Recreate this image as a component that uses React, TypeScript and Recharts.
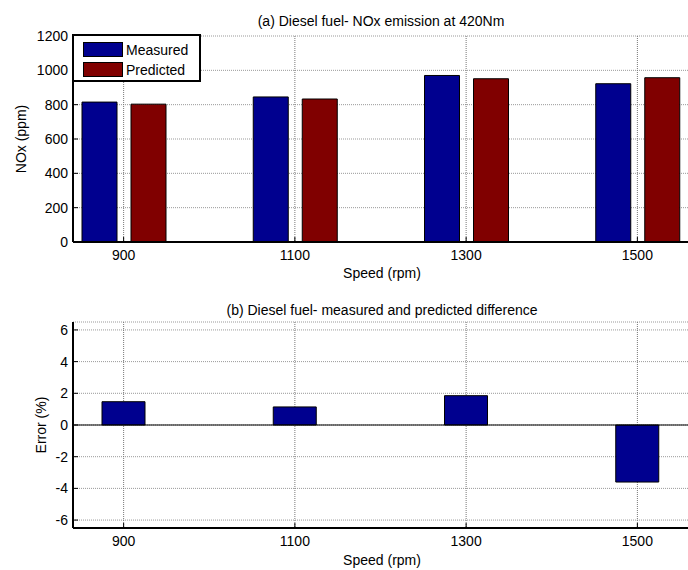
import { BarChart, Bar, XAxis, YAxis, CartesianGrid, ReferenceLine } from 'recharts'

const speeds = ['900', '1100', '1300', '1500']
const measured = [815, 845, 970, 922]
const predicted = [803, 833, 951, 957]
const errorPct = [1.47, 1.14, 1.85, -3.6]
const noxTicks = [0, 200, 400, 600, 800, 1000, 1200]
const errTicks = [-6, -4, -2, 0, 2, 4, 6]

const noxData = speeds.map((s, i) => ({ speed: s, measured: measured[i], predicted: predicted[i] }))
const errData = speeds.map((s, i) => ({ speed: s, error: errorPct[i] }))

const FONT = '"Liberation Sans", Arial, Helvetica, sans-serif'
const BLUE = '#00008f'
const RED = '#800000'
const AXIS = { stroke: '#000', strokeWidth: 2 }
// stretch the category bands past the box so the ticks sit where matlab put them
const PAD = { left: -35, right: -34 }

const BottomTick = (p: any) => (
  <g>
    <line x1={p.x} x2={p.x} y1={p.y} y2={p.y - 5} stroke="#000" />
    <text x={p.x} y={p.y + 18} textAnchor="middle" fontSize={14} fontFamily={FONT} fill="#000">
      {p.payload.value}
    </text>
  </g>
)

const TopTick = (p: any) => <line x1={p.x} x2={p.x} y1={p.y} y2={p.y + 5} stroke="#000" />

const LeftTick = (p: any) => (
  <g>
    <line x1={p.x + 5} x2={p.x + 10} y1={p.y} y2={p.y} stroke="#000" />
    <text x={p.x} y={p.y} dy={5} textAnchor="end" fontSize={14} fontFamily={FONT} fill="#000">
      {p.payload.value}
    </text>
  </g>
)

function Caption({ x, y, text, rotate }: { x: number; y: number; text: string; rotate?: boolean }) {
  return (
    <div
      style={{
        position: 'absolute', left: x, top: y, fontSize: 14, lineHeight: '14px',
        whiteSpace: 'nowrap', color: '#000',
        transform: rotate ? 'translate(-50%, -50%) rotate(-90deg)' : 'translateX(-50%)',
      }}
    >
      {text}
    </div>
  )
}

function Legend() {
  const item = (top: number, color: string, label: string) => (
    <>
      <div style={{ position: 'absolute', left: 83, top, width: 40, height: 15, background: color, border: '1px solid #000', boxSizing: 'border-box' }} />
      <div style={{ position: 'absolute', left: 126, top: top + 1, fontSize: 14, lineHeight: '14px' }}>{label}</div>
    </>
  )
  return (
    <>
      <div style={{ position: 'absolute', left: 72, top: 34, width: 129, height: 48, border: '2px solid #000', boxSizing: 'border-box', background: '#fff' }} />
      {item(42, BLUE, 'Measured')}
      {item(62, RED, 'Predicted')}
    </>
  )
}

export default function App() {
  return (
    <div style={{ position: 'absolute', left: 0, top: 0, width: 688, height: 570, overflow: 'hidden', background: '#fff', fontFamily: FONT }}>
      <div style={{ position: 'absolute', left: 0, top: 0 }}>
        <BarChart width={700} height={290} data={noxData} margin={{ top: 36, right: 11, bottom: 18, left: 0 }} barGap={14}>
          <CartesianGrid vertical={false} stroke="#999" strokeDasharray="1 1" />
          <CartesianGrid horizontal={false} stroke="#777" strokeDasharray="1 1" />
          <Bar dataKey="measured" fill={BLUE} stroke="#000" barSize={35} isAnimationActive={false} />
          <Bar dataKey="predicted" fill={RED} stroke="#000" barSize={35} isAnimationActive={false} />
          <XAxis dataKey="speed" padding={PAD} height={30} axisLine={AXIS} tickLine={false} tickSize={0} tickMargin={0} interval={0} tick={BottomTick} />
          <XAxis xAxisId="top" orientation="top" dataKey="speed" padding={PAD} height={0} axisLine={AXIS} tickLine={false} tickSize={0} tickMargin={0} interval={0} tick={TopTick} />
          <YAxis type="number" domain={[0, 1200]} ticks={noxTicks} interval={0} width={73} axisLine={AXIS} tickLine={false} tickSize={0} tickMargin={5} tick={LeftTick} />
          <YAxis yAxisId="right" orientation="right" type="number" domain={[0, 1200]} width={0} axisLine={AXIS} tickLine={false} tick={false} />
        </BarChart>
      </div>

      <div style={{ position: 'absolute', left: 0, top: 290 }}>
        <BarChart width={700} height={280} data={errData} margin={{ top: 32, right: 11, bottom: 12, left: 0 }}>
          <CartesianGrid vertical={false} stroke="#999" strokeDasharray="1 1" />
          <CartesianGrid horizontal={false} stroke="#777" strokeDasharray="1 1" />
          <ReferenceLine y={0} stroke="#000" strokeWidth={1} />
          <Bar dataKey="error" fill={BLUE} stroke="#000" barSize={43} isAnimationActive={false} />
          <XAxis dataKey="speed" padding={PAD} height={30} axisLine={AXIS} tickLine={false} tickSize={0} tickMargin={0} interval={0} tick={BottomTick} />
          <XAxis xAxisId="top" orientation="top" dataKey="speed" padding={PAD} height={0} axisLine={AXIS} tickLine={false} tickSize={0} tickMargin={0} interval={0} tick={TopTick} />
          <YAxis type="number" domain={[-6.5, 6.5]} ticks={errTicks} interval={0} width={73} axisLine={AXIS} tickLine={false} tickSize={0} tickMargin={5} tick={LeftTick} />
          <YAxis yAxisId="right" orientation="right" type="number" domain={[-6.5, 6.5]} width={0} axisLine={AXIS} tickLine={false} tick={false} />
        </BarChart>
      </div>

      <Legend />
      <Caption x={381} y={14} text="(a) Diesel fuel- NOx emission at 420Nm" />
      <Caption x={382} y={266} text="Speed (rpm)" />
      <Caption x={21} y={139} text="NOx (ppm)" rotate />
      <Caption x={382} y={303} text="(b) Diesel fuel- measured and predicted difference" />
      <Caption x={382} y={553} text="Speed (rpm)" />
      <Caption x={41} y={425} text="Error (%)" rotate />
    </div>
  )
}
